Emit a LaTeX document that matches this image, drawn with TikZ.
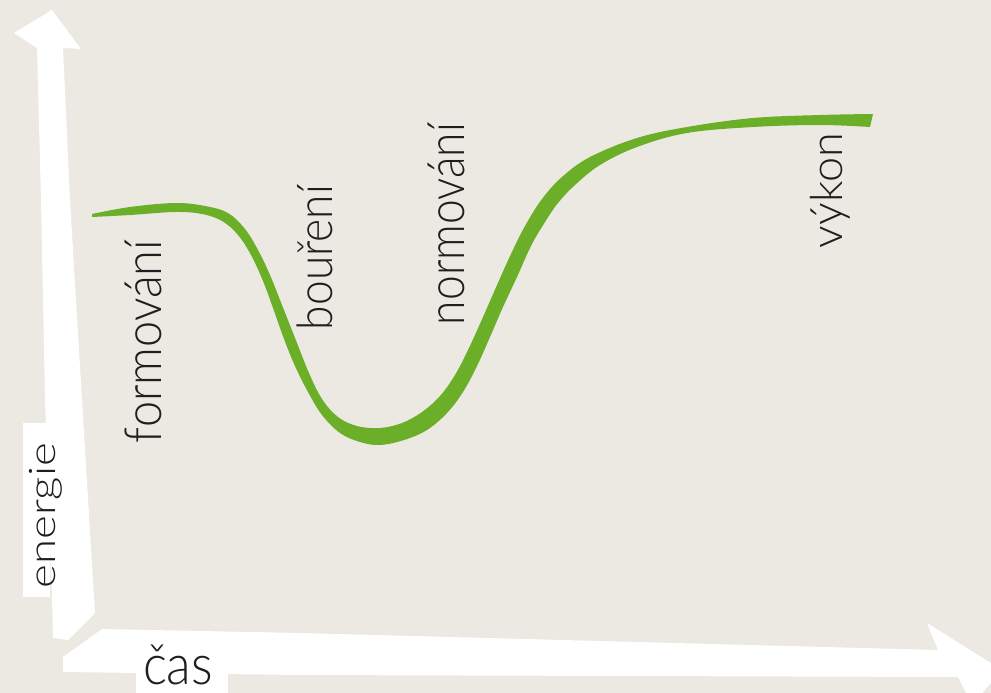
\documentclass[tikz,border=0pt]{standalone}
\usepackage{fontspec}
\usepackage{graphicx}
\setmainfont{Lato Light}
\definecolor{paper}{HTML}{ECE9E3}
\definecolor{leaf}{HTML}{6AAF27}
\definecolor{ink}{HTML}{1E1E1E}
\newcommand{\fitlabel}[3]{\resizebox*{#1}{#2}{#3}}
\begin{document}
\begin{tikzpicture}[x=1pt,y=-1pt,
  axisshape/.style={fill=white,draw=none},
  lbl/.style={inner sep=0pt,text=ink},
  vlbl/.style={lbl,rotate=90}]
\useasboundingbox (0,0) rectangle (991,693);
\clip (0,0) rectangle (991,693);
\fill[paper] (0,0) rectangle (991,693);
% vertical axis
\fill[axisshape] (52,10) -- (81,49) -- (63,48) -- (70,200) -- (82,400) -- (95,613)
  -- (68,640) -- (53,638) -- (52,597) -- (45,400) -- (41,200) -- (37,48) -- (14,33) -- cycle;
\fill[axisshape] (23,423) rectangle (50,597);
% horizontal axis
\fill[axisshape] (63,657) -- (102,629) -- (300,633) -- (938,650) -- (927,623) -- (1002,670)
  -- (972,705) -- (958,677) -- (300,675) -- (63,672) -- cycle;
\fill[axisshape] (136,672) rectangle (228,693);
% curve
\fill[leaf] plot[smooth,tension=0.6] coordinates {(92,214) (130,207) (175,203) (205,206) (228,213) (245,229) (258,250) (270,275) (282,305) (297,343) (309,373) (322,399) (338,417) (357,426) (380,428) (402,423) (422,412) (440,396) (455,375) (468,350) (483,317) (497,285) (511,254) (525,226) (542,199) (562,177) (590,157) (637,138) (687,127) (753,118) (820,115) (873,114)}
 -- plot[smooth,tension=0.6] coordinates {(870,127) (820,125) (753,127) (687,133) (637,147) (600,165) (575,185) (558,203) (545,222) (531,246) (517,277) (503,307) (490,337) (477,366) (463,392) (447,413) (427,430) (404,440) (380,445) (360,442) (340,433) (322,415) (308,392) (295,366) (284,339) (273,308) (263,281) (251,255) (238,235) (222,221) (202,214) (175,212) (130,215) (92,217)} -- cycle;
% labels
\node[vlbl] (formovani) at (143.5,341.5) {\fitlabel{203pt}{37pt}{formování}};
\node[vlbl] (boureni) at (315,257.5) {\fitlabel{145pt}{36pt}{bouření}};
\node[vlbl] (normovani) at (446.5,224) {\fitlabel{202pt}{37pt}{normování}};
\node[vlbl] (vykon) at (830,190.5) {\fitlabel{115pt}{40pt}{výkon}};
\node[vlbl] (energie) at (45.5,515.5) {\fitlabel{145pt}{33pt}{energie}};
\node[lbl] (cas) at (178,665) {\fitlabel{70pt}{40pt}{čas}};
\end{tikzpicture}
\end{document}
